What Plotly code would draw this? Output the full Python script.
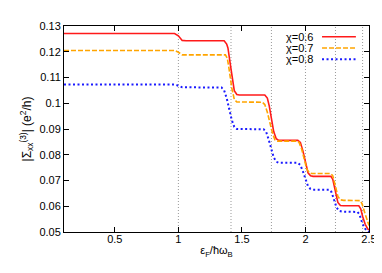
import plotly.graph_objects as go

# ---- data ----
red_x = [0.10, 0.97, 1.00, 1.03, 1.06, 1.36, 1.38, 1.39, 1.415, 1.44, 1.46, 1.48,
         1.68, 1.70, 1.715, 1.73, 1.75, 1.77, 1.79, 1.94, 1.96, 1.98, 2.00, 2.02,
         2.04, 2.06, 2.20, 2.215, 2.235, 2.255, 2.275, 2.30, 2.42, 2.435, 2.45,
         2.47, 2.49, 2.50]
red_y = [0.1271, 0.1271, 0.1262, 0.1244, 0.1243, 0.1243, 0.1230, 0.1215, 0.1131,
         0.1049, 0.1034, 0.1032, 0.1032, 0.1020, 0.0990, 0.0945, 0.0890, 0.0862,
         0.0856, 0.0856, 0.0848, 0.0815, 0.0770, 0.0730, 0.0718, 0.0716, 0.0716,
         0.0705, 0.0660, 0.0615, 0.0603, 0.0602, 0.0602, 0.0590, 0.0560, 0.0530,
         0.0512, 0.0508]

orange_x = [0.10, 0.97, 1.00, 1.03, 1.37, 1.385, 1.40, 1.42, 1.44, 1.46, 1.66,
            1.68, 1.70, 1.72, 1.74, 1.76, 1.78, 1.93, 1.95, 1.97, 1.99, 2.01,
            2.03, 2.05, 2.20, 2.215, 2.235, 2.255, 2.275, 2.30, 2.43, 2.445,
            2.46, 2.48, 2.50]
orange_y = [0.1205, 0.1205, 0.1198, 0.1188, 0.1188, 0.1175, 0.1130, 0.1060,
            0.1015, 0.1005, 0.1004, 0.0995, 0.0965, 0.0925, 0.0885, 0.0858,
            0.0853, 0.0853, 0.0848, 0.0822, 0.0780, 0.0745, 0.0730, 0.0727,
            0.0727, 0.0718, 0.0680, 0.0638, 0.0625, 0.0623, 0.0622, 0.0610,
            0.0585, 0.0550, 0.0525]

blue_x = [0.10, 0.97, 1.00, 1.03, 1.34, 1.36, 1.38, 1.40, 1.42, 1.44, 1.46,
          1.67, 1.69, 1.71, 1.73, 1.75, 1.77, 1.79, 1.94, 1.96, 1.98, 2.00,
          2.02, 2.04, 2.06, 2.19, 2.205, 2.225, 2.245, 2.265, 2.29, 2.41,
          2.425, 2.44, 2.46, 2.48, 2.50]
blue_y = [0.1073, 0.1073, 0.1068, 0.1062, 0.1061, 0.1050, 0.1020, 0.0975,
          0.0935, 0.0908, 0.0900, 0.0899, 0.0890, 0.0860, 0.0825, 0.0790,
          0.0773, 0.0769, 0.0769, 0.0760, 0.0735, 0.0705, 0.0678, 0.0667,
          0.0664, 0.0664, 0.0655, 0.0625, 0.0595, 0.0582, 0.0579, 0.0578,
          0.0568, 0.0545, 0.0520, 0.0505, 0.0500]

series_names = ["χ=0.6", "χ=0.7", "χ=0.8"]
level_lines = [1.0, 1.4142, 1.7321, 2.0, 2.2361, 2.4495]

x_tickvals = [0.5, 1.0, 1.5, 2.0, 2.5]
x_ticktext = ["0.5", "1", "1.5", "2", "2.5"]
y_tickvals = [0.05, 0.06, 0.07, 0.08, 0.09, 0.10, 0.11, 0.12, 0.13]
y_ticktext = ["0.05", "0.06", "0.07", "0.08", "0.09", "0.1", "0.11", "0.12", "0.13"]

FONT = "Liberation Sans, Arial, sans-serif"

styles = [
    dict(color="#ff1a1a", width=1.6, dash="solid"),
    dict(color="#ffa500", width=1.6, dash="5px,2px"),
    dict(color="#1a1aff", width=2.0, dash="2px,2.5px"),
]

fig = go.Figure()
for (xs, ys), name, st in zip([(red_x, red_y), (orange_x, orange_y), (blue_x, blue_y)],
                              series_names, styles):
    fig.add_trace(go.Scatter(x=xs, y=ys, mode="lines", name=name, line=st,
                             showlegend=False))

for xv in level_lines:
    fig.add_vline(x=xv, line=dict(color="#999999", width=1, dash="1px,2px"), layer="below")

# gnuplot-style key: text right-aligned, sample to the right
key_rows = [0.948, 0.893, 0.838]
for name, st, yy in zip(series_names, styles, key_rows):
    fig.add_annotation(x=0.826, y=yy, xref="paper", yref="paper", text=name,
                       showarrow=False, xanchor="right", yanchor="middle",
                       font=dict(family=FONT, size=11, color="black"))
    fig.add_shape(type="line", xref="paper", yref="paper", x0=0.846, x1=0.957,
                  y0=yy, y1=yy, line=st)

axis_common = dict(showline=True, linecolor="black", linewidth=1, mirror="ticks",
                   ticks="inside", ticklen=5, tickcolor="black", showgrid=False,
                   zeroline=False, tickfont=dict(family=FONT, size=11, color="black"))

fig.update_xaxes(range=[0.1, 2.5], tickvals=x_tickvals, ticktext=x_ticktext,
                 ticklabelstandoff=-3,
                 title=dict(text="ε<sub>F</sub>/ħω<sub>B</sub>",
                            font=dict(family=FONT, size=11, color="black"), standoff=2),
                 **axis_common)
fig.update_yaxes(range=[0.05, 0.13], tickvals=y_tickvals, ticktext=y_ticktext,
                 title=dict(text="|Σ<sub>xx</sub><sup>(3)</sup>| (e<sup>2</sup>/h)",
                            font=dict(family=FONT, size=12, color="black"), standoff=5),
                 **axis_common)

fig.update_layout(width=382, height=273, margin=dict(l=56, r=21, t=14, b=49),
                  plot_bgcolor="white", paper_bgcolor="white",
                  font=dict(family=FONT, size=11, color="black"))

fig.write_html("out.html")
